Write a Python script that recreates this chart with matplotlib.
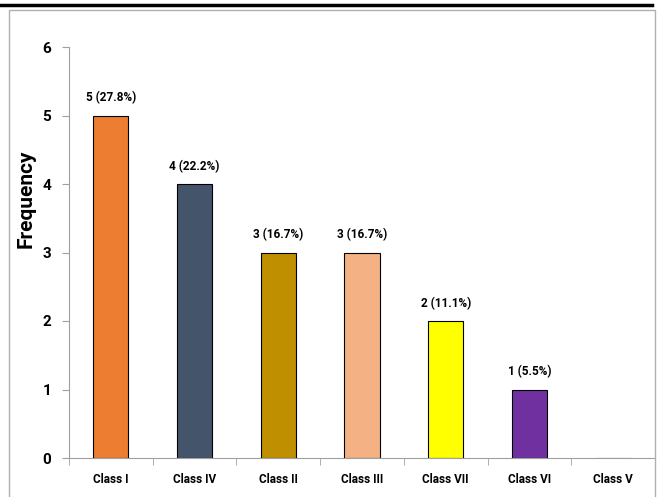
import matplotlib.pyplot as plt
from matplotlib.lines import Line2D
from matplotlib.patches import Rectangle

categories = ["Class I", "Class IV", "Class II", "Class III", "Class VII", "Class VI", "Class V"]
frequency = [5, 4, 3, 3, 2, 1, 0]
labels = ["5 (27.8%)", "4 (22.2%)", "3 (16.7%)", "3 (16.7%)", "2 (11.1%)", "1 (5.5%)", ""]
colors = ["#ED7D31", "#44546A", "#BF8F00", "#F4B183", "#FFFF00", "#7030A0", "#FFFFFF"]

plt.rcParams['font.family'] = ['Roboto', 'DejaVu Sans']

fig = plt.figure(figsize=(6.57, 4.97), dpi=100)

# page decorations: thick rule at top and grey frame
fig.add_artist(Line2D([0, 652 / 657], [1 - 4.5 / 497] * 2, color="black", lw=2.5, transform=fig.transFigure))
fig.add_artist(Rectangle((9 / 657, -0.1), (655 - 9) / 657, 1.1 - 10 / 497, fill=False,
                         edgecolor="#b0b0b0", lw=1, transform=fig.transFigure))

ax = fig.add_axes([69 / 657, 39 / 497, 586 / 657, 411 / 497])
x = range(len(categories))
bars = ax.bar(x, frequency, width=0.42, color=colors, edgecolor="black", linewidth=0.8)
for b, lab in zip(bars, labels):
    if lab:
        ax.text(b.get_x() + b.get_width() / 2, b.get_height() + 0.26, lab,
                ha="center", va="center", fontsize=8.5, fontweight="bold")

ax.set_xlim(-0.5, len(categories) - 0.5)
ax.set_ylim(0, 6)
ax.set_yticks(range(7))
ax.set_xticks(x)
ax.set_xticklabels(categories, fontsize=8.5, fontweight="bold")
ax.set_xticks([i - 0.5 for i in range(len(categories) + 1)], minor=True)
ax.tick_params(axis="x", which="major", length=0, pad=11)
ax.tick_params(axis="x", which="minor", length=5, color="#a0a0a0", direction="out")
ax.tick_params(axis="y", length=5, color="#a0a0a0", labelsize=11, pad=8)
for t in ax.get_yticklabels():
    t.set_fontweight("bold")
ax.set_ylabel("Frequency", fontsize=15, fontweight="bold")
ax.yaxis.set_label_coords(-0.057, 0.63)

for s in ["top", "right"]:
    ax.spines[s].set_visible(False)
ax.spines["left"].set_color("#a0a0a0")
ax.spines["bottom"].set_color("#a0a0a0")

fig.savefig("out.png", dpi=100)
